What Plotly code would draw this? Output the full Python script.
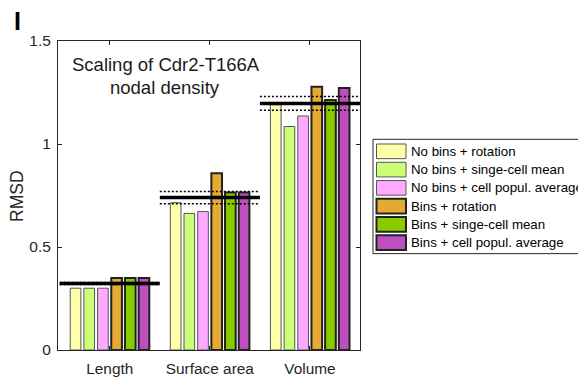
import plotly.graph_objects as go

categories = ["Length", "Surface area", "Volume"]
series_names = [
    "No bins + rotation",
    "No bins + singe-cell mean",
    "No bins + cell popul. average",
    "Bins + rotation",
    "Bins + singe-cell mean",
    "Bins + cell popul. average",
]
series_values = [
    [0.30, 0.715, 1.191],
    [0.30, 0.663, 1.085],
    [0.30, 0.672, 1.136],
    [0.35, 0.858, 1.278],
    [0.35, 0.765, 1.214],
    [0.35, 0.765, 1.272],
]
ref_mean = [0.323, 0.740, 1.197]
ref_upper = [0.328, 0.770, 1.230]
ref_lower = [0.318, 0.710, 1.164]
y_ticks = [0, 0.5, 1, 1.5]
y_tick_labels = ["0", "0.5", "1", "1.5"]

colors = ["#FFFFAA", "#CCFF77", "#FFAAFF", "#E6AA33", "#88CC00", "#BF4FBF"]
edge_colors = ["#555555", "#555555", "#555555", "#222222", "#222222", "#222222"]
edge_widths = [1, 1, 1, 2, 2, 2]

# Page geometry: body keeps an 8px margin; the photographed page is squeezed
# vertically (picture_y ~= 0.973 * page_y + 0.5), so vertical positions are
# given in target picture px and converted.
OFF = 8
KY, KB = 0.973, 0.5
W, H = 578, 381
L, R, T, B = 50, 352, 33, 358   # plot area in figure px

fig = go.Figure()
xs = [1, 2, 3]
for i, name in enumerate(series_names):
    fig.add_trace(go.Bar(
        x=xs, y=series_values[i], name=name,
        marker=dict(color=colors[i], line=dict(color=edge_colors[i], width=edge_widths[i])),
        showlegend=False,
    ))

for j in range(len(categories)):
    x0, x1 = xs[j] - 0.5, xs[j] + 0.5
    for yv, w, d in [(ref_upper[j], 1.5, "2px,2px"), (ref_lower[j], 1.5, "2px,2px"),
                     (ref_mean[j], 3.5, "solid")]:
        fig.add_trace(go.Scatter(
            x=[x0, x1], y=[yv, yv], mode="lines",
            line=dict(color="black", width=w, dash=d),
            showlegend=False, hoverinfo="skip",
        ))

def px_x(p):
    return (p - OFF - L) / (R - L)

def px_y(p):
    fy = (p - KB) / KY - OFF
    return (B - fy) / (B - T)

shapes = []
annotations = []

# Legend box (target picture px)
LX = 373
shapes.append(dict(type="rect", xref="paper", yref="paper",
                   x0=px_x(LX), x1=px_x(585), y0=px_y(258), y1=px_y(141),
                   line=dict(color="#262626", width=1), fillcolor="white"))
for i, name in enumerate(series_names):
    cy = 153.3 + 18.7 * i
    shapes.append(dict(type="rect", xref="paper", yref="paper",
                       x0=px_x(LX + 3.5), x1=px_x(LX + 33), y0=px_y(cy + 7.5), y1=px_y(cy - 7.5),
                       line=dict(color=edge_colors[i], width=edge_widths[i]),
                       fillcolor=colors[i]))
    annotations.append(dict(text=name, xref="paper", yref="paper",
                            x=px_x(LX + 36), y=px_y(cy), xanchor="left", yanchor="middle",
                            showarrow=False, font=dict(size=13.3, color="black")))

annotations += [
    dict(text="Scaling of Cdr2-T166A", xref="paper", yref="paper", x=px_x(165.8), y=px_y(64),
         xanchor="center", yanchor="middle", showarrow=False, font=dict(size=18.5, color="#1a1a1a")),
    dict(text="nodal density", xref="paper", yref="paper", x=px_x(165), y=px_y(87.5),
         xanchor="center", yanchor="middle", showarrow=False, font=dict(size=18.5, color="#1a1a1a")),
    dict(text="<b>I</b>", xref="paper", yref="paper", x=px_x(17.5), y=px_y(20),
         xanchor="center", yanchor="middle", showarrow=False, font=dict(size=25, color="black")),
    dict(text="RMSD", xref="paper", yref="paper", x=px_x(17), y=px_y(199), textangle=-90,
         xanchor="center", yanchor="middle", showarrow=False, font=dict(size=17.5, color="#262626")),
]

fig.update_layout(
    width=W, height=H,
    margin=dict(l=L, r=W - R, t=T, b=H - B, pad=0),
    paper_bgcolor="white", plot_bgcolor="white",
    barmode="group", bargap=0.18, bargroupgap=0.22,
    font=dict(family="Liberation Sans, Arial, sans-serif", color="#262626"),
    shapes=shapes, annotations=annotations,
    showlegend=False,
)
fig.update_xaxes(
    range=[0.483, 3.5], tickmode="array", tickvals=xs, ticktext=categories,
    ticks="inside", ticklen=4, tickcolor="#262626", showline=True, linecolor="#262626",
    linewidth=1, mirror="ticks", showgrid=False, zeroline=False,
    tickfont=dict(size=15.4, color="#262626"), ticklabelstandoff=5,
)
fig.update_yaxes(
    range=[0, 1.5], tickmode="array", tickvals=y_ticks, ticktext=y_tick_labels,
    ticks="inside", ticklen=4, tickcolor="#262626", showline=True, linecolor="#262626",
    linewidth=1, mirror="ticks", showgrid=False, zeroline=False,
    tickfont=dict(size=15.5, color="#262626"), ticklabelstandoff=3,
)

fig.write_html("out.html")
